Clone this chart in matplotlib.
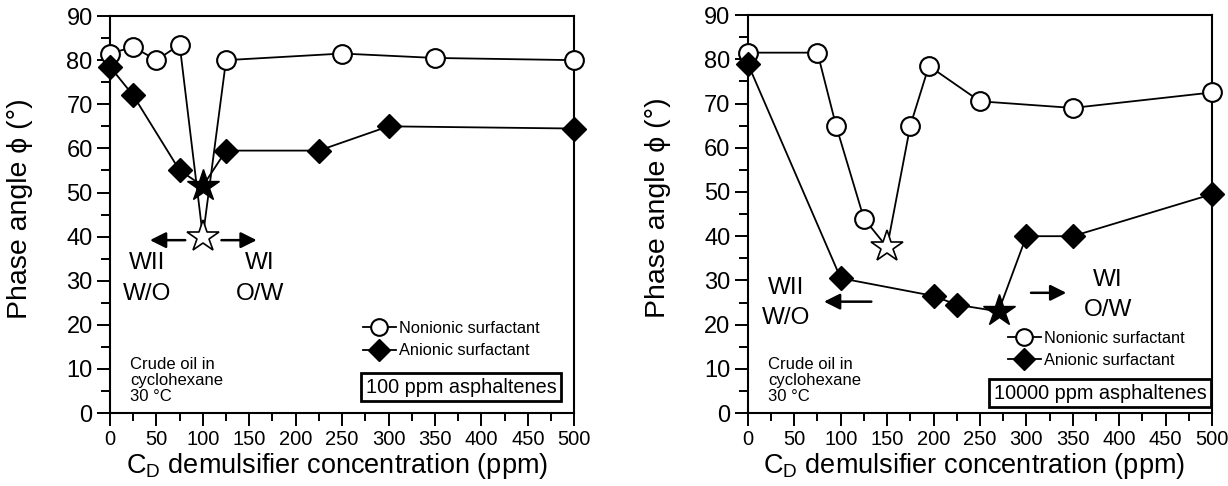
import matplotlib.pyplot as plt
from matplotlib.lines import Line2D
from matplotlib.ticker import MultipleLocator

plt.rcParams['font.family'] = ['Liberation Sans', 'DejaVu Sans']
plt.rcParams['mathtext.fontset'] = 'custom'
plt.rcParams['mathtext.rm'] = 'Liberation Sans'

# datos panel izquierdo (100 ppm asfaltenos)
conc_non_a = [0, 25, 50, 75, 100, 125, 250, 350, 500]
phase_non_a = [81.5, 83, 80, 83.5, 40, 80, 81.5, 80.5, 80]
star_non_a = 4
conc_ani_a = [0, 25, 75, 100, 125, 225, 300, 500]
phase_ani_a = [78.5, 72, 55, 51.5, 59.5, 59.5, 65, 64.5]
star_ani_a = 3

# datos panel derecho (10000 ppm asfaltenos)
conc_non_b = [0, 75, 95, 125, 150, 175, 195, 250, 350, 500]
phase_non_b = [81.5, 81.5, 65, 44, 37.5, 65, 78.5, 70.5, 69, 72.5]
star_non_b = 4
conc_ani_b = [0, 100, 200, 225, 270, 300, 350, 500]
phase_ani_b = [79, 30.5, 26.5, 24.5, 23, 40, 40, 49.5]
star_ani_b = 4

labels = ['Nonionic surfactant', 'Anionic surfactant']
boxes = ['100 ppm asphaltenes', '10000 ppm asphaltenes']
note = 'Crude oil in\ncyclohexane\n30 °C'


def serie(ax, x, y, i_star, filled):
    ax.plot(x, y, '-', color='k', lw=1.3, zorder=2, clip_on=False)
    xs = [v for k, v in enumerate(x) if k != i_star]
    ys = [v for k, v in enumerate(y) if k != i_star]
    if filled:
        ax.plot(xs, ys, 'D', ms=12, mfc='k', mec='k', zorder=4, clip_on=False)
        ax.plot(x[i_star], y[i_star], '*', ms=24, mfc='k', mec='k', zorder=5, clip_on=False)
    else:
        ax.plot(xs, ys, 'o', ms=13.5, mfc='white', mec='k', mew=1.5, zorder=3, clip_on=False)
        ax.plot(x[i_star], y[i_star], '*', ms=24, mfc='white', mec='k', mew=1.2, zorder=3,
                clip_on=False)


def flecha(ax, x0, x1, y):
    ax.annotate('', xy=(x1, y), xytext=(x0, y),
                arrowprops=dict(arrowstyle='-|>', lw=1.8, color='k', mutation_scale=24,
                                shrinkA=0, shrinkB=0))


def marco(ax, legx, legy, boxx, boxy, box_text):
    ax.set_xlim(0, 500)
    ax.set_ylim(0, 90)
    ax.xaxis.set_major_locator(MultipleLocator(50))
    ax.xaxis.set_minor_locator(MultipleLocator(25))
    ax.yaxis.set_major_locator(MultipleLocator(10))
    ax.yaxis.set_minor_locator(MultipleLocator(5))
    ax.tick_params(axis='y', which='major', length=9.5, width=1.4, labelsize=17, pad=3)
    ax.tick_params(axis='y', which='minor', length=6.5, width=1.4)
    ax.tick_params(axis='x', which='major', length=9.5, width=1.4, labelsize=14.5, pad=3)
    ax.tick_params(axis='x', which='minor', length=6, width=1.4)
    for s in ax.spines.values():
        s.set_linewidth(1.5)
    ax.set_ylabel('Phase angle ϕ (°)', fontsize=20.5)
    ax.yaxis.set_label_coords(-0.166, 0.516)
    ax.set_xlabel(r'C$_\mathrm{D}$ demulsifier concentration (ppm)', fontsize=19.5)
    ax.xaxis.set_label_coords(0.488, -0.095)
    h = [Line2D([], [], color='k', lw=1.3, marker='o', ms=12, mfc='white', mec='k', mew=1.5),
         Line2D([], [], color='k', lw=1.3, marker='D', ms=11, mfc='k', mec='k')]
    ax.legend(h, labels, loc='upper left', bbox_to_anchor=(legx, legy), frameon=False,
              fontsize=11.8, handlelength=2.0, handletextpad=0.2, labelspacing=0.45,
              borderpad=0, borderaxespad=0)
    ax.text(boxx, boxy, box_text, transform=ax.transAxes, fontsize=14.3,
            ha='center', va='center',
            bbox=dict(boxstyle='square,pad=0.22', fc='white', ec='k', lw=2))
    ax.text(0.043, 0.022, note, transform=ax.transAxes, fontsize=12, va='bottom',
            linespacing=1.1)


fig = plt.figure(figsize=(12.28, 4.86), dpi=100)

ax1 = fig.add_axes([0.0896, 0.150, 0.378, 0.817])
serie(ax1, conc_non_a, phase_non_a, star_non_a, False)
serie(ax1, conc_ani_a, phase_ani_a, star_ani_a, True)
flecha(ax1, 81, 43, 39.2)
flecha(ax1, 120, 158, 39.2)
ax1.text(39.5, 34, 'WII', fontsize=17.5, ha='center', va='center')
ax1.text(39.5, 27, 'W/O', fontsize=17.5, ha='center', va='center')
ax1.text(161.5, 34, 'WI', fontsize=17.5, ha='center', va='center')
ax1.text(161.5, 27, 'O/W', fontsize=17.5, ha='center', va='center')
marco(ax1, 0.545, 0.232, 0.756, 0.065, boxes[0])

ax2 = fig.add_axes([0.609, 0.150, 0.378, 0.819])
serie(ax2, conc_non_b, phase_non_b, star_non_b, False)
serie(ax2, conc_ani_b, phase_ani_b, star_ani_b, True)
flecha(ax2, 133, 82, 25.2)
flecha(ax2, 305, 343, 27.2)
ax2.text(41.7, 28.2, 'WII', fontsize=17.5, ha='center', va='center')
ax2.text(41.7, 21.4, 'W/O', fontsize=17.5, ha='center', va='center')
ax2.text(388, 30.2, 'WI', fontsize=17.5, ha='center', va='center')
ax2.text(388, 23.4, 'O/W', fontsize=17.5, ha='center', va='center')
marco(ax2, 0.560, 0.207, 0.759, 0.050, boxes[1])

fig.savefig('out.png', dpi=100)
